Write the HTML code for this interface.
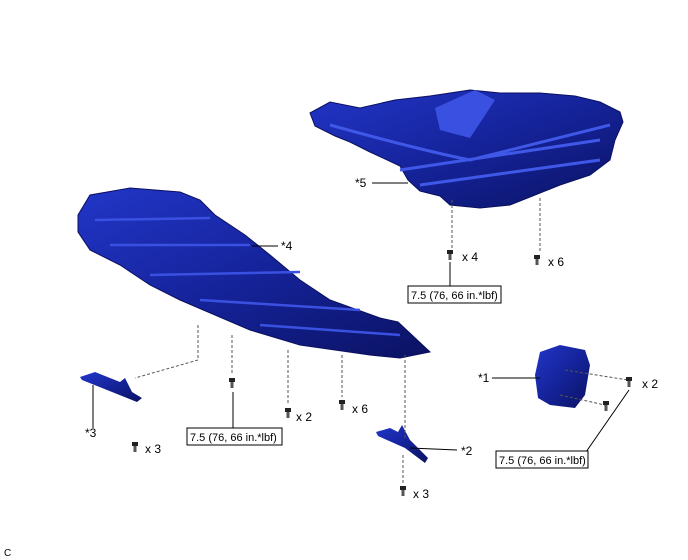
<!DOCTYPE html>
<html><head><style>
body{margin:0;background:#fff;}
svg{display:block;font-family:"Liberation Sans",Arial,sans-serif;}
</style></head><body>
<svg width="688" height="560" viewBox="0 0 688 560" xmlns="http://www.w3.org/2000/svg">
<defs>
<linearGradient id="g" x1="0" y1="0" x2="1" y2="1">
<stop offset="0" stop-color="#2236c8"/><stop offset="0.5" stop-color="#15239a"/><stop offset="1" stop-color="#0b1262"/>
</linearGradient>
<g id="bolt"><rect x="-3" y="-5" width="6" height="4" fill="#222"/><rect x="-1.5" y="-1" width="3" height="6" fill="#555"/></g>
</defs>
<polygon fill="url(#g)" stroke="#0a1060" stroke-width="1" points="310,113 330,102 360,108 395,100 430,96 470,90 500,93 540,93 575,96 600,102 620,112 623,122 615,140 610,160 590,175 560,185 540,193 510,205 480,208 450,205 440,196 420,191 408,180 400,166 370,152 350,142 335,136 315,126"/>
<polygon fill="#3a50e0" points="435,108 475,90 495,100 470,138 440,130"/>
<path d="M330,125 Q420,150 470,160 L610,125 M400,170 L600,140 M420,185 L600,160" stroke="#4058e8" stroke-width="3" fill="none"/>
<polygon fill="url(#g)" stroke="#0a1060" stroke-width="1" points="78,215 90,195 130,188 180,192 200,200 215,215 245,235 270,255 300,280 330,300 380,318 398,322 430,352 400,358 370,355 300,345 250,330 215,315 180,300 150,285 120,265 90,250 78,232"/>
<path d="M95,220 L210,218 M110,245 L250,245 M150,275 L300,272 M200,300 L360,310 M260,325 L400,335" stroke="#3a50e0" stroke-width="2.5" fill="none"/>
<polygon fill="url(#g)" points="80,377 95,372 120,382 125,378 132,392 142,398 137,402 82,380"/>
<polygon fill="url(#g)" points="376,432 390,428 398,432 402,425 410,440 428,458 425,463 405,448 378,436"/>
<polygon fill="url(#g)" points="540,352 560,345 585,350 590,365 585,395 575,408 550,405 538,398 535,375"/>
<g stroke="#555" stroke-width="1" stroke-dasharray="3,2" fill="none">
<path d="M452,200V248 M540,198V252 M198,325V360L135,378 M232,335V375 M288,350V405 M342,355V397 M405,355V440 M403,455V483 M565,370L628,380 M560,395L605,405"/>
</g>
<g>
<use href="#bolt" x="450" y="255"/><use href="#bolt" x="537" y="260"/><use href="#bolt" x="232" y="383"/>
<use href="#bolt" x="288" y="413"/><use href="#bolt" x="342" y="405"/><use href="#bolt" x="135" y="447"/>
<use href="#bolt" x="403" y="491"/><use href="#bolt" x="629" y="382"/><use href="#bolt" x="606" y="406"/>
</g>
<g stroke="#000" stroke-width="1" fill="none">
<path d="M372,183H408 M252,246H278 M93,428V385 M410,448L457,450 M492,378H540 M450,262V286 M233,428V392 M586,452L629,390"/>
</g>
<g fill="#fff" stroke="#000" stroke-width="1">
<rect x="408" y="286" width="93" height="17"/><rect x="187" y="428" width="95" height="17"/><rect x="496" y="451" width="92" height="17"/>
</g>
<g font-size="11" fill="#000">
<text x="411" y="299">7.5 (76, 66 in.*lbf)</text>
<text x="190" y="441">7.5 (76, 66 in.*lbf)</text>
<text x="499" y="464">7.5 (76, 66 in.*lbf)</text>
<text x="355" y="187" font-size="12">*5</text>
<text x="281" y="250" font-size="12">*4</text>
<text x="85" y="437" font-size="12">*3</text>
<text x="461" y="455" font-size="12">*2</text>
<text x="478" y="382" font-size="12">*1</text>
<text x="462" y="261" font-size="12">x 4</text>
<text x="548" y="266" font-size="12">x 6</text>
<text x="296" y="421" font-size="12">x 2</text>
<text x="352" y="413" font-size="12">x 6</text>
<text x="145" y="453" font-size="12">x 3</text>
<text x="413" y="498" font-size="12">x 3</text>
<text x="642" y="388" font-size="12">x 2</text>
<text x="4" y="556" font-size="10">C</text>
</g>
</svg>
</body></html>
